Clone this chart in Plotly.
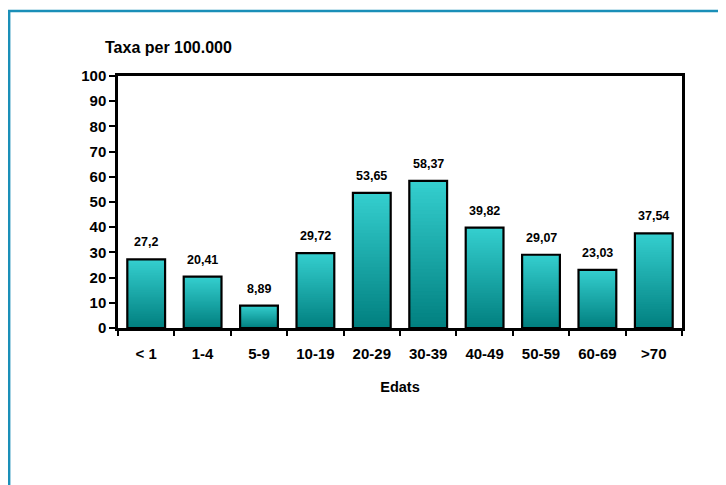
import plotly.graph_objects as go

categories = ["< 1", "1-4", "5-9", "10-19", "20-29", "30-39", "40-49", "50-59", "60-69", ">70"]
values = [27.2, 20.41, 8.89, 29.72, 53.65, 58.37, 39.82, 29.07, 23.03, 37.54]
value_labels = ["27,2", "20,41", "8,89", "29,72", "53,65", "58,37", "39,82", "29,07", "23,03", "37,54"]
y_title = "Taxa per 100.000"
x_title = "Edats"

FONT = "Arial, 'Liberation Sans', sans-serif"
TOP = (52, 206, 206)
BOT = (0, 126, 126)
N = 40
BW = 0.67

fig = go.Figure()
# gradient: stacked overlay of progressively shorter bars
for k in range(N):
    f = 1 - k / N
    c = tuple(round(BOT[i] + (TOP[i] - BOT[i]) * f) for i in range(3))
    fig.add_trace(go.Bar(
        x=categories, y=[v * f for v in values], width=BW,
        marker=dict(color="rgb(%d,%d,%d)" % c, line=dict(width=0)),
        hoverinfo="skip", showlegend=False,
    ))
# outline
fig.add_trace(go.Bar(
    x=categories, y=values, width=BW,
    marker=dict(color="rgba(0,0,0,0)", line=dict(color="black", width=2.2)),
    showlegend=False,
))

annotations = [
    dict(x=c, y=v, text=t, xref="x", yref="y", showarrow=False,
         yanchor="bottom", yshift=8,
         font=dict(family=FONT, size=12.5, color="black", weight="bold"))
    for c, v, t in zip(categories, values, value_labels)
]
annotations.append(dict(
    x=0.09, y=1.115, xref="paper", yref="paper", text=y_title, showarrow=False,
    xanchor="center", yanchor="middle",
    font=dict(family=FONT, size=16, color="black", weight="bold")))

fig.update_layout(
    width=726, height=485,
    margin=dict(l=110, r=52, t=68, b=165),
    paper_bgcolor="white", plot_bgcolor="white",
    barmode="overlay",
    annotations=annotations,
    shapes=[dict(type="rect", xref="paper", yref="paper",
                 x0=-0.193, x1=1.3, y0=-1.0, y1=1.258,
                 line=dict(color="#1a8fb8", width=2.5), layer="below")],
    xaxis=dict(
        showline=True, linecolor="black", linewidth=2.5, mirror=True,
        ticks="outside", ticklen=5, tickwidth=2, tickcolor="black",
        tickson="boundaries", showgrid=False, ticklabelstandoff=10,
        tickfont=dict(family=FONT, size=15, color="black", weight="bold"),
        title=dict(text=x_title, standoff=22,
                   font=dict(family=FONT, size=14.5, color="black", weight="bold")),
    ),
    yaxis=dict(
        range=[0, 100], dtick=10, showline=True, linecolor="black", linewidth=2.5,
        mirror=True, ticks="outside", ticklen=6, tickwidth=2, tickcolor="black",
        showgrid=False, zeroline=False,
        tickfont=dict(family=FONT, size=15, color="black", weight="bold"),
    ),
)

fig.write_html("out.html")
